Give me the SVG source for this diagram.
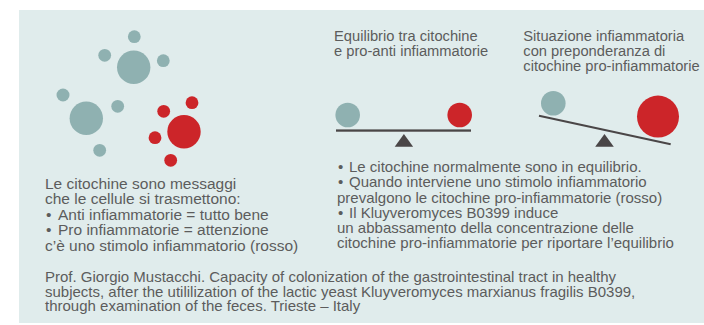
<svg xmlns="http://www.w3.org/2000/svg" width="704" height="325" viewBox="0 0 704 325">
  <style>
    .t { font-family: "Liberation Sans", Arial, sans-serif; font-size: 15px; fill: #5c5c5c; }
    .l { font-size: 15.5px; }
    .h { font-family: "Liberation Sans", Arial, sans-serif; font-size: 14.7px; fill: #5c5c5c; }
    .g { fill: #8fb1b1; }
    .r { fill: #cc2529; }
    .pivot { fill: #4a4647; }
  </style>
  <rect x="19" y="10" width="685" height="313" fill="#e0ecec"/>

  <g id="cytokine-cluster">
    <circle class="g" cx="134.3" cy="36.7" r="6.4"/>
    <circle class="g" cx="104.7" cy="55.3" r="6.4"/>
    <circle class="g" cx="133.7" cy="67.3" r="16.7"/>
    <circle class="g" cx="163.3" cy="60.7" r="6.4"/>
    <circle class="g" cx="63" cy="95" r="6.5"/>
    <circle class="g" cx="86.3" cy="118.3" r="16.7"/>
    <circle class="g" cx="117.7" cy="106.3" r="6.4"/>
    <circle class="g" cx="99.7" cy="150.3" r="6.4"/>
    <circle class="r" cx="192" cy="102.7" r="6.4"/>
    <circle class="r" cx="163.7" cy="111.3" r="6.4"/>
    <circle class="r" cx="184" cy="131.7" r="16.7"/>
    <circle class="r" cx="155" cy="137.7" r="6.4"/>
    <circle class="r" cx="170.7" cy="160.3" r="6.4"/>
  </g>

  <g id="left-text">
    <text class="t l" x="45" y="189">Le citochine sono messaggi</text>
    <text class="t l" x="45" y="204.4">che le cellule si trasmettono:</text>
    <text class="t l" x="46" y="219.8">•<tspan x="58">Anti infiammatorie = tutto bene</tspan></text>
    <text class="t l" x="46" y="235.2">•<tspan x="58">Pro infiammatorie = attenzione</tspan></text>
    <text class="t l" x="45" y="250.6">c’è uno stimolo infiammatorio (rosso)</text>
  </g>

  <g id="equilibrium">
    <text class="h" x="334" y="41">Equilibrio tra citochine</text>
    <text class="h" x="334" y="56">e pro-anti infiammatorie</text>
    <circle class="g" cx="347.7" cy="115" r="12.3"/>
    <circle class="r" cx="459.7" cy="115" r="12.3"/>
    <rect x="336" y="129.4" width="135" height="2.3" fill="#4a4647"/>
    <polygon class="pivot" points="403.9,134 394.7,146.7 413.1,146.7"/>
  </g>

  <g id="inflammation">
    <text class="h" x="523.3" y="41">Situazione infiammatoria</text>
    <text class="h" x="523.3" y="56">con preponderanza di</text>
    <text class="h" x="523.3" y="71">citochine pro-infiammatorie</text>
    <circle class="g" cx="553.3" cy="103.3" r="12.3"/>
    <circle class="r" cx="658" cy="116.6" r="21"/>
    <line x1="539" y1="115.7" x2="670.7" y2="144.3" stroke="#4a4647" stroke-width="2.2"/>
    <polygon class="pivot" points="604.5,134 595.2,146.7 613.8,146.7"/>
  </g>

  <g id="bullets">
    <text class="t" x="338" y="172.3">•<tspan x="349">Le citochine normalmente sono in equilibrio.</tspan></text>
    <text class="t" x="338" y="187.4">•<tspan x="349">Quando interviene uno stimolo infiammatorio</tspan></text>
    <text class="t" x="337" y="202.5">prevalgono le citochine pro-infiammatorie (rosso)</text>
    <text class="t" x="338" y="217.6">•<tspan x="349">Il Kluyveromyces B0399 induce</tspan></text>
    <text class="t" x="337" y="232.7">un abbassamento della concentrazione delle</text>
    <text class="t" x="337" y="247.8">citochine pro-infiammatorie per riportare l’equilibrio</text>
  </g>

  <g id="reference">
    <text class="t" x="45" y="282">Prof. Giorgio Mustacchi. Capacity of colonization of the gastrointestinal tract in healthy</text>
    <text class="t" x="45" y="296.6">subjects, after the utililization of the lactic yeast Kluyveromyces marxianus fragilis B0399,</text>
    <text class="t" x="45" y="311.2">through examination of the feces. Trieste – Italy</text>
  </g>

  <g id="connectors"/>
</svg>
